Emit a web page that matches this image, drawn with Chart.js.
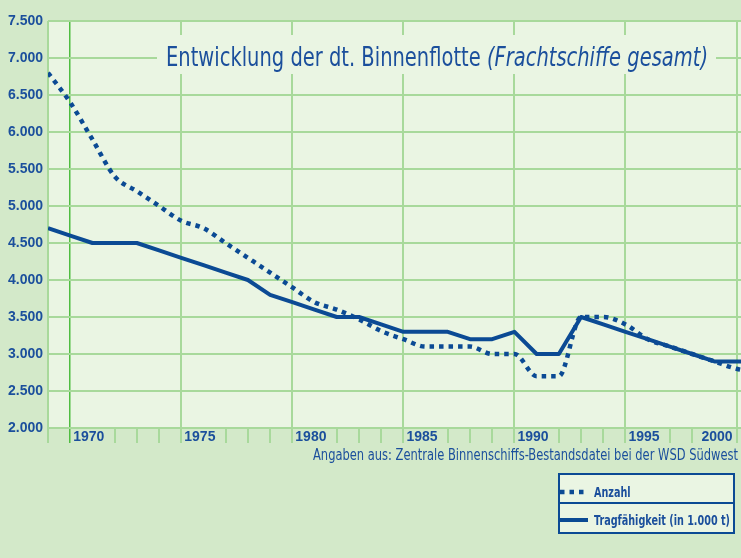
<!DOCTYPE html>
<html>
<head>
<meta charset="utf-8">
<script src="https://cdn.jsdelivr.net/npm/chart.js@4"></script>
<style>
  html, body { margin: 0; padding: 0; background: #d3e9c9; }
  #wrap { width: 741px; height: 558px; }
</style>
</head>
<body>
<div id="wrap"><canvas id="fleet-chart" width="741" height="558"></canvas></div>
<script>
(function () {
	const years = [1969, 1970, 1971, 1972, 1973, 1974, 1975, 1976, 1977, 1978, 1979,
		1980, 1981, 1982, 1983, 1984, 1985, 1986, 1987, 1988, 1989,
		1990, 1991, 1992, 1993, 1994, 1995, 1996, 1997, 1998, 1999, 2000, 2001];
	const anzahl = [6800, 6400, 5900, 5400, 5200, 5000, 4800, 4700, 4500, 4300, 4100,
		3900, 3700, 3600, 3470, 3310, 3200, 3100, 3100, 3100, 3000,
		3000, 2700, 2700, 3500, 3500, 3400, 3200, 3100, 3000, 2900, 2800, 2750];
	const tragfaehigkeit = [4700, 4600, 4500, 4500, 4500, 4400, 4300, 4200, 4100, 4000, 3800,
		3700, 3600, 3500, 3500, 3400, 3300, 3300, 3300, 3200, 3200,
		3300, 3000, 3000, 3500, 3400, 3300, 3200, 3100, 3000, 2900, 2900, 2900];
	const yearLabels = [1970, 1975, 1980, 1985, 1990, 1995, 2000];
	const hiddenTicks = [1971, 1976, 1981, 1986, 1991, 1996, 1999];

	const blue = '#0b4a94';
	const textBlue = '#1b4f9c';
	const gridGreen = '#a8d99b';
	const plotBg = '#eaf5e3';
	const narrow = "'Liberation Sans Narrow', 'DejaVu Sans Condensed', 'Liberation Sans', sans-serif";

	const $canvas = document.getElementById('fleet-chart');

	// draw text squeezed to a given width
	function fitText(ctx, text, x, y, width, font, align) {
		ctx.font = font;
		const w = ctx.measureText(text).width;
		ctx.save();
		ctx.translate(x, y);
		ctx.scale(width / w, 1);
		ctx.textAlign = align || 'left';
		ctx.fillText(text, 0, 0);
		ctx.restore();
	}

	const decor = {
		id: 'decor',
		beforeDraw(chart) {
			const { ctx, chartArea: a } = chart;
			ctx.save();
			ctx.fillStyle = '#d3e9c9';
			ctx.fillRect(0, 0, chart.width, chart.height);
			ctx.fillStyle = plotBg;
			ctx.fillRect(a.left, a.top, a.right - a.left, a.bottom - a.top);
			ctx.restore();
		},
		beforeDatasetsDraw(chart) {
			const { ctx } = chart;
			const x = chart.scales.x;
			ctx.save();
			// title box
			ctx.fillStyle = plotBg;
			ctx.fillRect(157, 35, 559, 39);
			ctx.fillStyle = textBlue;
			ctx.textBaseline = 'alphabetic';
			const t1 = 'Entwicklung der dt. Binnenflotte ';
			const t2 = '(Frachtschiffe gesamt)';
			ctx.font = '26px ' + narrow;
			const w1 = ctx.measureText(t1).width;
			ctx.font = 'italic 26px ' + narrow;
			const w2 = ctx.measureText(t2).width;
			const k = 542 / (w1 + w2);
			fitText(ctx, t1, 166, 66, w1 * k, '26px ' + narrow);
			fitText(ctx, t2, 166 + w1 * k, 66, w2 * k, 'italic 26px ' + narrow);

			// year labels in the strip
			ctx.fillStyle = textBlue;
			ctx.font = 'bold 14px "Liberation Sans", Arial, sans-serif';
			ctx.textBaseline = 'middle';
			yearLabels.forEach(function (yr) {
				const px = x.getPixelForValue(yr);
				if (yr === 2000) {
					ctx.textAlign = 'right';
					ctx.fillText(String(yr), px - 4, 437);
				} else {
					ctx.textAlign = 'left';
					ctx.fillText(String(yr), px + 3, 437);
				}
			});

			// source line
			fitText(ctx, 'Angaben aus: Zentrale Binnenschiffs-Bestandsdatei bei der WSD Südwest',
				738, 456, 425, '15px ' + narrow, 'right');
			ctx.restore();
		},
		afterDraw(chart) {
			const { ctx } = chart;
			const ds = chart.data.datasets;
			ctx.save();
			// legend box
			ctx.fillStyle = plotBg;
			ctx.fillRect(559, 474, 175, 59);
			ctx.strokeStyle = blue;
			ctx.lineWidth = 2;
			ctx.strokeRect(559, 474, 175, 59);
			ctx.beginPath();
			ctx.moveTo(559, 503);
			ctx.lineTo(734, 503);
			ctx.stroke();

			ctx.lineWidth = ds[0].borderWidth;
			ctx.setLineDash(ds[0].borderDash);
			ctx.beginPath();
			ctx.moveTo(560, 492);
			ctx.lineTo(584, 492);
			ctx.stroke();
			ctx.setLineDash([]);
			ctx.lineWidth = ds[1].borderWidth;
			ctx.beginPath();
			ctx.moveTo(559, 520);
			ctx.lineTo(588, 520);
			ctx.stroke();

			ctx.fillStyle = textBlue;
			ctx.textBaseline = 'middle';
			const lf = 'bold 14px ' + narrow;
			ctx.font = lf;
			const wt = ctx.measureText(ds[1].label).width;
			const k = 136 / wt;
			const wa = ctx.measureText(ds[0].label).width * k;
			fitText(ctx, ds[0].label, 594, 493, wa, lf);
			fitText(ctx, ds[1].label, 594, 521, 136, lf);
			ctx.restore();
		}
	};

	const data = {
		labels: years,
		datasets: [
			{
				label: 'Anzahl',
				data: years.map((yr, i) => ({ x: yr, y: anzahl[i] })),
				borderColor: blue,
				borderWidth: 4.5,
				borderDash: [4.5, 5],
				borderCapStyle: 'butt',
				cubicInterpolationMode: 'monotone',
				pointRadius: 0,
				fill: false,
			},
			{
				label: 'Tragfähigkeit (in 1.000 t)',
				data: years.map((yr, i) => ({ x: yr, y: tragfaehigkeit[i] })),
				borderColor: blue,
				borderWidth: 4,
				borderJoinStyle: 'round',
				tension: 0,
				pointRadius: 0,
				fill: false,
			},
		],
	};

	const config = {
		type: 'line',
		data: data,
		plugins: [decor],
		options: {
			responsive: false,
			animation: false,
			layout: { padding: { top: 21, left: 0, right: 0, bottom: 0 } },
			scales: {
				x: {
					type: 'linear',
					min: 1969,
					max: 2000.2,
					afterBuildTicks: scale => {
						scale.ticks = years.filter(yr => yr <= 2000).map(yr => ({ value: yr }));
					},
					afterFit: scale => { scale.height = 130; },
					ticks: { display: false },
					border: { display: false },
					grid: {
						drawTicks: true,
						tickLength: 15,
						color: ctx => {
							const v = ctx.tick && ctx.tick.value;
							if (v === 1970) return '#4fbd40';
							return (v === 1969 || v % 5 === 0) ? gridGreen : 'rgba(0,0,0,0)';
						},
						tickColor: ctx => {
							const v = ctx.tick && ctx.tick.value;
							if (v === 1970) return '#4fbd40';
							return hiddenTicks.includes(v) ? 'rgba(0,0,0,0)' : gridGreen;
						},
						lineWidth: ctx => (ctx.tick && ctx.tick.value === 1970) ? 1.5 : 2,
					},
				},
				y: {
					min: 2000,
					max: 7500,
					afterFit: scale => { scale.width = 48; },
					ticks: {
						stepSize: 500,
						padding: 5,
						color: textBlue,
						font: { family: '"Liberation Sans", Arial, sans-serif', size: 14, weight: 'bold' },
						callback: v => v.toLocaleString('de-DE', { minimumFractionDigits: 0 }).replace(',', '.'),
					},
					border: { display: false },
					grid: { drawTicks: false, color: gridGreen, lineWidth: 2 },
				},
			},
			plugins: {
				legend: { display: false },
				tooltip: { enabled: false },
			},
		},
	};

	const fleetChart = new Chart($canvas, config);
})();
</script>
</body>
</html>
